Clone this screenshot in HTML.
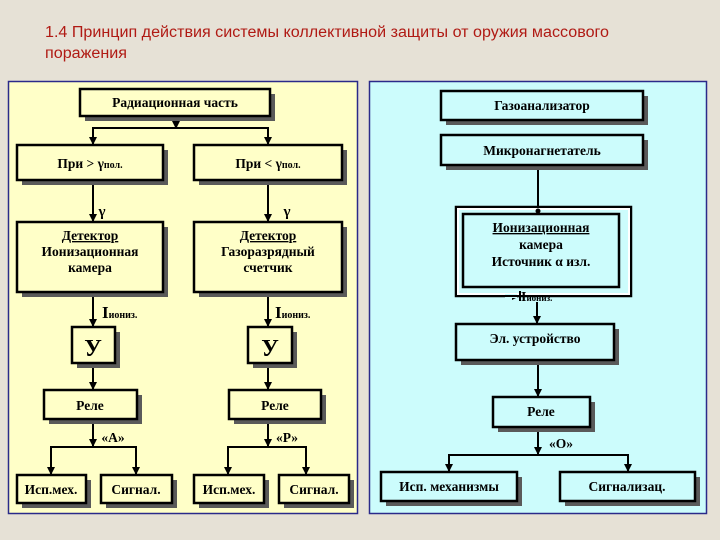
<!DOCTYPE html>
<html><head><meta charset="utf-8"><style>
html,body{margin:0;padding:0;background:#e6e1d6;}
svg{display:block}
text{font-family:"Liberation Serif","DejaVu Serif",serif;font-weight:bold;fill:#000;}
</style></head><body>
<svg width="720" height="540" viewBox="0 0 720 540" xmlns="http://www.w3.org/2000/svg">
<defs>
<marker id="a" markerWidth="8" markerHeight="8" refX="7" refY="4" orient="auto" markerUnits="userSpaceOnUse"><path d="M0,0 L8,4 L0,8 z" fill="#000"/></marker>
</defs>
<rect width="720" height="540" fill="#e6e1d6"/>
<text x="45" y="37" font-size="15.5" textLength="564" lengthAdjust="spacingAndGlyphs" style="font-family:'Liberation Sans',sans-serif;font-weight:normal;fill:#b01a14">1.4  Принцип действия системы коллективной защиты от оружия массового</text>
<text x="45" y="58" font-size="15.5" textLength="82" lengthAdjust="spacingAndGlyphs" style="font-family:'Liberation Sans',sans-serif;font-weight:normal;fill:#b01a14">поражения</text>

<rect x="8.5" y="81.5" width="349" height="432" fill="#ffffc8" stroke="#2a2a8a" stroke-width="1.5"/>
<rect x="369.5" y="81.5" width="337" height="432" fill="#ccfcfc" stroke="#2a2a8a" stroke-width="1.5"/>

<g stroke="#000" stroke-width="2" fill="none">
<line x1="176" y1="118" x2="176" y2="128" marker-end="url(#a)"/>
<polyline points="93,145 93,128 268,128 268,145"/>
<line x1="93" y1="128" x2="93" y2="144" marker-end="url(#a)"/>
<line x1="268" y1="128" x2="268" y2="144" marker-end="url(#a)"/>
<line x1="93" y1="181" x2="93" y2="221" marker-end="url(#a)"/>
<line x1="268" y1="181" x2="268" y2="221" marker-end="url(#a)"/>
<line x1="93" y1="293" x2="93" y2="326" marker-end="url(#a)"/>
<line x1="268" y1="293" x2="268" y2="326" marker-end="url(#a)"/>
<line x1="93" y1="364" x2="93" y2="389" marker-end="url(#a)"/>
<line x1="268" y1="364" x2="268" y2="389" marker-end="url(#a)"/>
<line x1="93" y1="420" x2="93" y2="446" marker-end="url(#a)"/>
<line x1="268" y1="420" x2="268" y2="446" marker-end="url(#a)"/>
<polyline points="51,474 51,447 136,447 136,474"/>
<line x1="51" y1="447" x2="51" y2="474" marker-end="url(#a)"/>
<line x1="136" y1="447" x2="136" y2="474" marker-end="url(#a)"/>
<polyline points="228,474 228,447 306,447 306,474"/>
<line x1="228" y1="447" x2="228" y2="474" marker-end="url(#a)"/>
<line x1="306" y1="447" x2="306" y2="474" marker-end="url(#a)"/>
<line x1="538" y1="166" x2="538" y2="212"/>
<line x1="505" y1="296" x2="519" y2="296" marker-end="url(#a)"/>
<line x1="537" y1="302" x2="537" y2="323" marker-end="url(#a)"/>
<line x1="538" y1="361" x2="538" y2="396" marker-end="url(#a)"/>
<line x1="538" y1="428" x2="538" y2="454" marker-end="url(#a)"/>
<polyline points="449,471 449,455 628,455 628,471"/>
<line x1="449" y1="455" x2="449" y2="471" marker-end="url(#a)"/>
<line x1="628" y1="455" x2="628" y2="471" marker-end="url(#a)"/>
</g>

<g fill="#5a5a5a">
<rect x="85" y="94" width="190" height="27"/>
<rect x="22" y="150" width="146" height="35"/><rect x="199" y="150" width="148" height="35"/>
<rect x="22" y="227" width="146" height="70"/><rect x="199" y="227" width="148" height="70"/>
<rect x="77" y="332" width="43" height="36"/><rect x="253" y="332" width="44" height="36"/>
<rect x="49" y="395" width="93" height="29"/><rect x="234" y="395" width="92" height="29"/>
<rect x="22" y="480" width="69" height="28"/><rect x="106" y="480" width="71" height="28"/>
<rect x="199" y="480" width="70" height="28"/><rect x="284" y="480" width="70" height="28"/>
<rect x="446" y="96" width="202" height="29"/><rect x="446" y="140" width="202" height="30"/>
<rect x="461" y="329" width="158" height="36"/><rect x="498" y="402" width="97" height="30"/>
<rect x="386" y="477" width="136" height="29"/><rect x="565" y="477" width="135" height="29"/>
</g>
<g fill="#ffffc8" stroke="#000" stroke-width="2.5">
<rect x="80" y="89" width="190" height="27"/>
<rect x="17" y="145" width="146" height="35"/><rect x="194" y="145" width="148" height="35"/>
<rect x="17" y="222" width="146" height="70"/><rect x="194" y="222" width="148" height="70"/>
<rect x="72" y="327" width="43" height="36"/><rect x="248" y="327" width="44" height="36"/>
<rect x="44" y="390" width="93" height="29"/><rect x="229" y="390" width="92" height="29"/>
<rect x="17" y="475" width="69" height="28"/><rect x="101" y="475" width="71" height="28"/>
<rect x="194" y="475" width="70" height="28"/><rect x="279" y="475" width="70" height="28"/>
</g>
<g fill="#ccfcfc" stroke="#000" stroke-width="2.5">
<rect x="441" y="91" width="202" height="29"/><rect x="441" y="135" width="202" height="30"/>
<rect x="456" y="324" width="158" height="36"/><rect x="493" y="397" width="97" height="30"/>
<rect x="381" y="472" width="136" height="29"/><rect x="560" y="472" width="135" height="29"/>
</g>
<rect x="456" y="207" width="175" height="89" fill="#ccfcfc" stroke="#000" stroke-width="2.5"/>
<rect x="458" y="209" width="171" height="85" fill="none" stroke="#fff" stroke-width="2"/>
<rect x="463" y="214" width="156" height="73" fill="#ccfcfc" stroke="#000" stroke-width="2.5"/>
<rect x="505" y="294" width="12" height="4" fill="#ccfcfc"/>
<line x1="505" y1="296" x2="518" y2="296" stroke="#000" stroke-width="2"/>
<circle cx="538" cy="211" r="2.5" fill="#000"/>
<line x1="520" y1="291" x2="520" y2="301" stroke="#000" stroke-width="2"/>

<g font-size="13.5" text-anchor="middle">
<text x="175" y="107">Радиационная часть</text>
<text x="90" y="168">При &gt; γ<tspan font-size="10">пол.</tspan></text>
<text x="268" y="168">При &lt; γ<tspan font-size="10">пол.</tspan></text>
<text x="102" y="216" font-size="15">γ</text><text x="287" y="216" font-size="15">γ</text>
<text x="90" y="240" text-decoration="underline">Детектор</text>
<text x="90" y="256">Ионизационная</text>
<text x="90" y="272">камера</text>
<text x="268" y="240" text-decoration="underline">Детектор</text>
<text x="268" y="256">Газоразрядный</text>
<text x="268" y="272">счетчик</text>
<text x="102" y="318" font-size="17" text-anchor="start">I<tspan font-size="10">иониз.</tspan></text>
<text x="275" y="318" font-size="17" text-anchor="start">I<tspan font-size="10">иониз.</tspan></text>
<text x="93" y="356" font-size="24">У</text><text x="270" y="356" font-size="24">У</text>
<text x="90" y="410">Реле</text><text x="275" y="410">Реле</text>
<text x="113" y="442">«А»</text><text x="287" y="442">«Р»</text>
<text x="51" y="494">Исп.мех.</text><text x="136" y="494">Сигнал.</text>
<text x="229" y="494">Исп.мех.</text><text x="314" y="494">Сигнал.</text>
<text x="542" y="110">Газоанализатор</text>
<text x="542" y="155">Микронагнетатель</text>
<text x="541" y="232" text-decoration="underline">Ионизационная</text>
<text x="541" y="249">камера</text>
<text x="541" y="266">Источник α изл.</text>
<text x="521" y="301" font-size="14" text-anchor="start">I<tspan font-size="9">иониз.</tspan></text>
<text x="535" y="343">Эл. устройство</text>
<text x="541" y="416">Реле</text>
<text x="561" y="448">«О»</text>
<text x="449" y="491">Исп. механизмы</text>
<text x="627" y="491">Сигнализац.</text>
</g>
</svg>
</body></html>
